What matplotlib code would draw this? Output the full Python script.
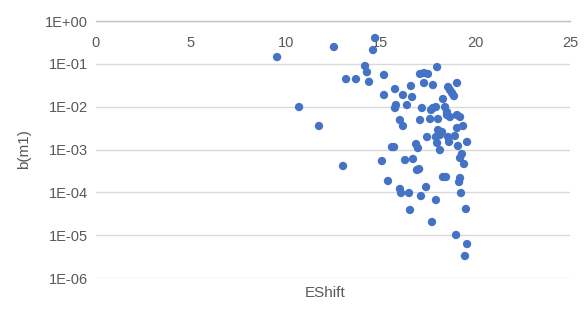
import numpy as np
import matplotlib
matplotlib.use("Agg")
import matplotlib.pyplot as plt
from matplotlib.ticker import FixedLocator, FuncFormatter, NullLocator

plt.rcParams['font.family'] = ['Liberation Sans', 'DejaVu Sans']

eshift = [9.55, 12.55, 14.72, 14.61, 14.19, 14.29, 14.40, 13.19, 13.71, 15.19,
          15.19, 10.71, 11.76, 13.03, 15.77, 16.19, 16.61, 16.67, 17.09, 17.30,
          17.51, 17.99, 17.30, 17.77, 18.57, 18.67, 18.78, 18.88, 19.04, 18.30,
          15.82, 15.77, 16.40, 17.19, 17.67, 17.77, 17.93, 18.41, 18.51, 16.03,
          16.19, 17.09, 17.62, 18.04, 18.51, 18.67, 19.04, 19.20, 19.04, 19.36,
          18.04, 18.25, 17.46, 17.93, 18.14, 18.57, 18.93, 18.62, 17.99, 18.14,
          19.09, 19.57, 15.61, 15.72, 16.88, 16.98, 15.08, 16.30, 16.72, 19.30,
          19.20, 19.41, 16.93, 17.04, 15.40, 16.03, 16.09, 16.51, 17.41, 17.14,
          17.93, 16.56, 17.72, 18.30, 18.46, 19.20, 19.15, 19.25, 19.51, 18.99,
          19.57, 19.46]
b_m1 = [0.144, 0.247, 0.40, 0.21, 0.089, 0.064, 0.038, 0.044, 0.044, 0.055,
        0.0187, 0.0098, 0.00354, 0.000412, 0.0258, 0.0187, 0.0304, 0.0168, 0.058, 0.061,
        0.058, 0.084, 0.0357, 0.032, 0.0288, 0.0245, 0.0208, 0.0177, 0.0357, 0.0151,
        0.0109, 0.0093, 0.0109, 0.0093, 0.00836, 0.0093, 0.0098, 0.0098, 0.0075, 0.00488,
        0.00354, 0.00488, 0.00515, 0.00515, 0.00638, 0.00574, 0.00638, 0.00574, 0.00318, 0.00354,
        0.00285, 0.00256, 0.00196, 0.00196, 0.00218, 0.00196, 0.00207, 0.0015, 0.00142, 0.00097,
        0.00121, 0.0015, 0.00114, 0.00114, 0.00134, 0.00108, 0.000538, 0.000568, 0.0006, 0.000785,
        0.000633, 0.000458, 0.000332, 0.00035, 0.000184, 0.00012, 0.0000964, 0.0000964, 0.000133, 0.000082,
        0.0000662, 0.0000387, 0.0000203, 0.000228, 0.000228, 0.000216, 0.000174, 0.0000964, 0.0000408, 0.0000101,
        0.0000062, 0.00000326]

x_ticks = [0, 5, 10, 15, 20, 25]
y_ticks = [1e-6, 1e-5, 1e-4, 1e-3, 1e-2, 1e-1, 1e0]

fig = plt.figure(figsize=(5.87, 3.12), dpi=100)
ax = fig.add_axes([96/587, 1-278/312, (570-96)/587, (278-21)/312])

ax.scatter(eshift, b_m1, s=36, color='#4472C4', edgecolors='none', zorder=3, clip_on=False)

ax.set_yscale('log')
ax.set_ylim(1e-6, 1)
ax.set_xlim(0, 25)

ax.yaxis.set_major_locator(FixedLocator(y_ticks))
ax.yaxis.set_minor_locator(NullLocator())
ax.yaxis.set_major_formatter(FuncFormatter(lambda v, p: "1E{:+03d}".format(int(round(np.log10(v))))))
ax.xaxis.set_major_locator(FixedLocator(x_ticks))

ax.grid(axis='y', color='#d9d9d9', linewidth=1.0, zorder=0)
for s in ['left', 'right', 'bottom']:
    ax.spines[s].set_visible(False)
ax.spines['top'].set_color('#bfbfbf')
ax.spines['top'].set_linewidth(1.0)

ax.tick_params(axis='y', length=0, labelsize=10.5, labelcolor='#595959', pad=6)
ax.tick_params(axis='x', length=0, top=False, bottom=False, labeltop=True,
               labelbottom=False, labelsize=10.5, labelcolor='#595959', pad=-21)

ax.set_ylabel('b(m1)', fontsize=11, color='#595959', labelpad=10)
fig.text(325/587, 1-293/312, 'EShift', fontsize=11, color='#595959', ha='center', va='center')

fig.savefig('out.png', dpi=100)
